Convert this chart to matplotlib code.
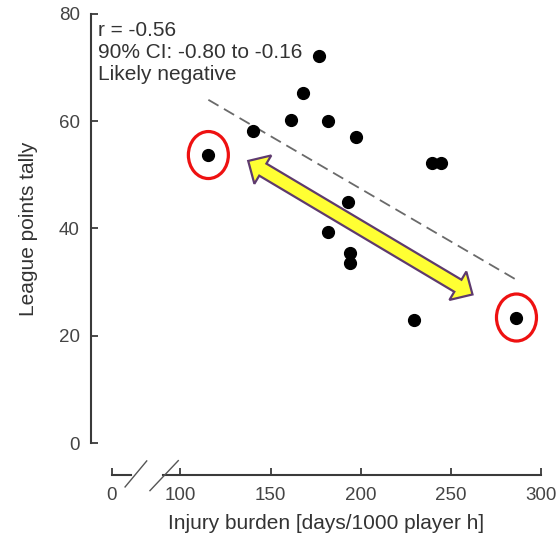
import numpy as np
import matplotlib
matplotlib.use('Agg')
import matplotlib.pyplot as plt
from matplotlib.patches import Ellipse, Polygon
from matplotlib.transforms import IdentityTransform

plt.rcParams['font.family'] = ['Liberation Sans', 'DejaVu Sans']

# values
injury = [115.5, 140.1, 161.1, 167.8, 177.0, 181.8, 197.3, 239.3, 244.8,
          192.7, 182.0, 194.0, 194.0, 229.7, 286.4]
points = [53.7, 58.1, 60.3, 65.3, 72.2, 60.1, 57.0, 52.3, 52.3,
          45.0, 39.3, 35.5, 33.5, 22.9, 23.4]
fit_x = [115.5, 286.5]
fit_y = [64.0, 30.4]
outliers = [(115.5, 53.7), (286.4, 23.4)]
arrow_ends = [(137.6, 52.6), (262.0, 27.7)]
x_ticks = [61.8, 100, 150, 200, 250, 300]
x_labels = ['0', '100', '150', '200', '250', '300']
y_ticks = [0, 20, 40, 60, 80]
stats_text = 'r = -0.56\n90% CI: -0.80 to -0.16\nLikely negative'

txt = '#333333'
axcol = '#3a3a3a'

fig = plt.figure(figsize=(5.6, 5.43), dpi=100)
ax = fig.add_axes([91/560, 100/543, 450/560, 429/543])
ax.set_xlim(50.4, 300)
ax.set_ylim(0, 80)

ax.plot(fit_x, fit_y, color='#6a6a6a', lw=1.3, ls=(0, (6.5, 3.5)))
ax.plot(injury, points, 'o', color='black', ms=8.5, mec='black', clip_on=False)

ax.spines['top'].set_visible(False)
ax.spines['right'].set_visible(False)
ax.spines['left'].set_bounds(0, 80)
ax.spines['left'].set_color(axcol)
ax.spines['left'].set_linewidth(1.5)
ax.spines['bottom'].set_position(('outward', 23))
ax.spines['bottom'].set_visible(False)

ax.set_xticks(x_ticks)
ax.set_xticklabels(x_labels)
ax.set_yticks(y_ticks)
ax.tick_params(axis='both', direction='in', length=5, width=1.3, color=axcol,
               labelsize=13.5, labelcolor='#444444')
ax.tick_params(axis='x', pad=9)
ax.tick_params(axis='y', pad=8)

# broken x axis line
xt = ax.get_xaxis_transform(which='tick1')
ax.plot([61.8, 72.6], [0, 0], color=axcol, lw=1.5, transform=xt, clip_on=False)
ax.plot([90.4, 300], [0, 0], color=axcol, lw=1.5, transform=xt, clip_on=False)
ax.plot([69.3, 81.3], [-12/429, 14/429], color='#555555', lw=1.0, transform=xt, clip_on=False)
ax.plot([83.1, 98.8], [-15.7/429, 14.3/429], color='#555555', lw=1.0, transform=xt, clip_on=False)

ax.set_ylabel('League points tally', fontsize=15, color=txt, va='center')
ax.yaxis.set_label_coords(-0.138, 0.499)
ax.set_xlabel('Injury burden [days/1000 player h]', fontsize=15, color=txt, va='center')
ax.xaxis.set_label_coords(0.522, -0.1865)

ax.text(0.0156, 0.984, stats_text, transform=ax.transAxes, ha='left', va='top',
        fontsize=15, color=txt, linespacing=1.22)

# red rings around the two outliers
for px, py in outliers:
    cx, cy = ax.transData.transform((px, py))
    ring = Ellipse((cx, cy), 40, 47, fill=False, ec='#ee1111', lw=2.3,
                   transform=IdentityTransform(), clip_on=False)
    ax.add_patch(ring)

# yellow double-headed arrow
p0 = ax.transData.transform(arrow_ends[0])
p1 = ax.transData.transform(arrow_ends[1])
u = (p1 - p0) / np.hypot(*(p1 - p0))
n = np.array([-u[1], u[0]])
hl, hw, sw = 17, 16.5, 7
verts = [p0, p0 + hl*u + hw*n, p0 + hl*u + sw*n, p1 - hl*u + sw*n, p1 - hl*u + hw*n,
         p1, p1 - hl*u - hw*n, p1 - hl*u - sw*n, p0 + hl*u - sw*n, p0 + hl*u - hw*n]
arr = Polygon(verts, closed=True, fc='#ffff33', ec='#5e3a6e', lw=1.6, joinstyle='miter',
              transform=IdentityTransform(), clip_on=False)
ax.add_patch(arr)

fig.savefig('out.png', dpi=100)
